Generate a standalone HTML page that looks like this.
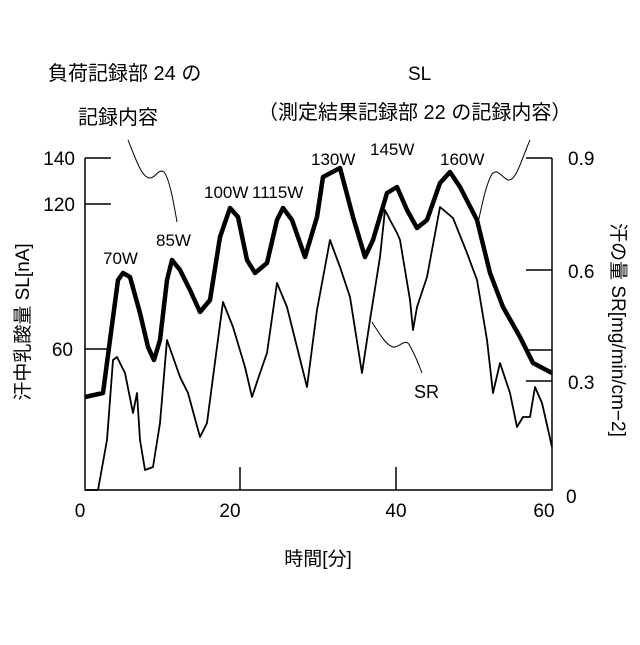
<!DOCTYPE html>
<html><head><meta charset="utf-8"><style>
body{margin:0;background:#fff}
svg text{font-family:"Liberation Sans","Noto Sans CJK JP",sans-serif;fill:#000}
</style></head><body>
<svg width="640" height="640" viewBox="0 0 640 640">
<g stroke="#000" fill="none" stroke-width="1.5">
<polyline points="85,158 85,490 552,490 552,158"/>
<line x1="85" y1="158" x2="111" y2="158"/>
<line x1="85" y1="204" x2="111" y2="204"/>
<line x1="85" y1="349" x2="111" y2="349"/>
<line x1="526" y1="158" x2="552" y2="158"/>
<line x1="526" y1="270" x2="552" y2="270"/>
<line x1="526" y1="350" x2="552" y2="350"/>
<line x1="526" y1="381" x2="552" y2="381"/>
<line x1="240" y1="467" x2="240" y2="490"/>
<line x1="396" y1="467" x2="396" y2="490"/>
</g>
<polyline fill="none" stroke="#000" stroke-width="4.5" stroke-linejoin="round" points="85,397 103,393 110,340 118,280 123,273 130,277 140,313 148,347 154,360 160,340 167,280 172,260 180,270 190,290 200,312 210,300 220,237 230,208 238,217 247,260 255,273 267,263 277,220 283,208 292,220 305,257 317,217 323,177 340,168 353,217 365,257 373,240 387,193 397,187 407,210 417,228 427,220 440,183 450,172 460,187 477,220 490,273 503,307 520,337 533,363 552,373"/>
<polyline fill="none" stroke="#000" stroke-width="1.8" stroke-linejoin="round" points="85,490 98,490 107,440 113,360 117,357 125,373 133,413 137,393 140,440 145,470 153,467 160,423 167,340 173,357 180,377 188,393 200,437 207,423 217,347 223,302 233,327 245,367 252,397 260,373 267,353 277,283 287,307 297,347 307,387 317,310 330,240 340,267 350,297 362,373 370,320 380,257 385,210 390,220 397,233 400,240 410,300 413,330 417,307 427,277 440,207 453,218 467,253 477,280 487,340 493,393 500,363 510,393 517,427 523,417 530,417 535,387 542,403 552,447"/>
<g fill="none" stroke="#000" stroke-width="1">
<path d="M128,140 C136,160 142,178 150,178 C156,178 158,168 164,172 C170,180 174,205 177,222"/>
<path d="M530,140 C522,158 516,182 508,180 C500,176 498,168 492,174 C486,184 482,205 478,223"/>
<path d="M372,322 C380,335 388,348 395,347 C402,345 406,338 410,346 C415,355 419,365 422,373"/>
</g>
<g font-size="17">
<text x="103" y="264">70W</text>
<text x="156" y="246">85W</text>
<text x="204" y="198">100W</text>
<text x="252" y="198">1115W</text>
<text x="311" y="165">130W</text>
<text x="370" y="155">145W</text>
<text x="440" y="165">160W</text>
<text x="414" y="398" font-size="18">SR</text>
</g>
<g font-size="19">
<text x="48" y="80" font-size="20">負荷記録部 24 の</text>
<text x="78" y="124" font-size="20">記録内容</text>
<text x="408" y="80">SL</text>
<text x="258" y="119" font-size="20">（測定結果記録部 22 の記録内容）</text>
<text x="75" y="165" text-anchor="end">140</text>
<text x="75" y="211" text-anchor="end">120</text>
<text x="73" y="356" text-anchor="end">60</text>
<text x="568" y="165">0.9</text>
<text x="568" y="278">0.6</text>
<text x="568" y="389">0.3</text>
<text x="566" y="503">0</text>
<text x="80" y="517" text-anchor="middle">0</text>
<text x="230" y="517" text-anchor="middle">20</text>
<text x="396" y="517" text-anchor="middle">40</text>
<text x="544" y="517" text-anchor="middle">60</text>
<text x="318" y="565" text-anchor="middle">時間[分]</text>
<text transform="translate(29,322) rotate(-90)" text-anchor="middle">汗中乳酸量 SL[nA]</text>
<text transform="translate(612,330) rotate(90)" text-anchor="middle">汗の量 SR[mg/min/cm−2]</text>
</g>
</svg>
</body></html>
